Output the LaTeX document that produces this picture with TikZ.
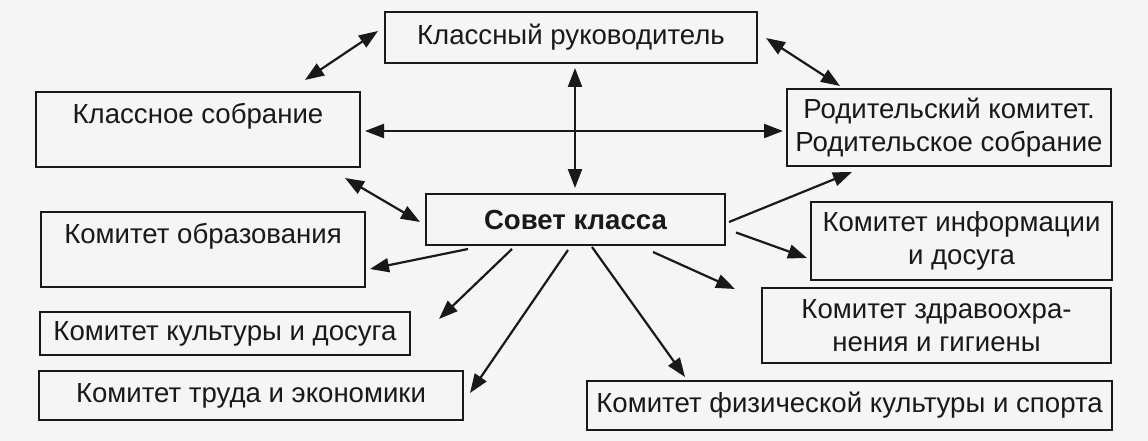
\documentclass[tikz,border=0pt]{standalone}
\usepackage{fontspec}
\setmainfont{Liberation Sans}
\usetikzlibrary{arrows.meta,calc}
\tikzset{
  box/.style={draw=black!90, line width=2pt, rectangle, inner sep=2pt, outer sep=0pt,
    align=center, text=black!90, font=\fontsize{27.6}{33}\selectfont},
  conn/.style={line width=2.2pt, draw=black!90, -{Triangle[length=19pt,width=14pt]}},
  dconn/.style={line width=2.2pt, draw=black!90, {Triangle[length=19pt,width=14pt]}-{Triangle[length=19pt,width=14pt]}}
}
\begin{document}
\begin{tikzpicture}[x=1pt,y=-1pt]
\fill[black!4] (0,0) rectangle (1148,441);
\useasboundingbox (0,0) rectangle (1148,441);

\node[box, minimum width=372pt, minimum height=51pt] (ruk) at (571,37.5) {Классный руководитель};
\node[box, minimum width=324pt, minimum height=75pt] (ksobr) at (198,129.5) {Классное собрание\\~};
\node[box, minimum width=324pt, minimum height=77pt] (rod) at (949,127.5) {Родительский комитет.\\Родительское собрание};
\node[box, minimum width=299pt, minimum height=51pt, font=\fontsize{27.6}{33}\selectfont\bfseries] (sovet) at (575.5,219.5) {Совет класса};
\node[box, minimum width=324pt, minimum height=75pt] (obraz) at (203,249.5) {Комитет образования\\~};
\node[box, minimum width=301pt, minimum height=78pt] (info) at (961.5,241) {Комитет информации\\и досуга};
\node[box, minimum width=349pt, minimum height=75pt] (zdrav) at (936.5,325.5) {Комитет здравоохра-\\нения и гигиены};
\node[box, minimum width=370pt, minimum height=43pt] (kult) at (225,333.5) {Комитет культуры и досуга};
\node[box, minimum width=424pt, minimum height=49pt] (trud) at (251,395.5) {Комитет труда и экономики};
\node[box, minimum width=525pt, minimum height=49pt] (fiz) at (849.5,405.5) {Комитет физической культуры и спорта};

% double arrows
\draw[dconn] ($(ruk.west)+(-7,-6.5)$) -- ($(ksobr.north east)+(-55,-12)$);
\draw[dconn] ($(ruk.east)+(9,0.5)$) -- ($(rod.north west)+(53,-3)$);
\draw[dconn] ($(ruk.south)+(4,5)$) -- ($(sovet.north)+(-0.5,-6)$);
\draw[dconn] ($(ksobr.east)+(5,1.5)$) -- ($(rod.west)+(-4,3.5)$);
\draw[dconn] ($(ksobr.south east)+(-15,11)$) -- ($(sovet.west)+(-6,2.5)$);

% single arrows from the council
\draw[conn] ($(sovet.east)+(4,2.5)$) -- ($(rod.south west)+(65,6)$);
\draw[conn] ($(sovet.east)+(11,13)$) -- ($(info.west)+(-4,17)$);
\draw[conn] ($(sovet.south east)+(-72,7)$) -- ($(zdrav.north west)+(-27,1)$);
\draw[conn] ($(sovet.south west)+(166,2)$) -- ($(fiz.north west)+(98,-4)$);
\draw[conn] ($(sovet.south west)+(142,5)$) -- ($(trud.east)+(7,-2.5)$);
\draw[conn] ($(sovet.south west)+(86,4)$) -- ($(kult.north east)+(29,7)$);
\draw[conn] ($(sovet.south west)+(42,4)$) -- ($(obraz.east)+(5,19.5)$);
\end{tikzpicture}
\end{document}
